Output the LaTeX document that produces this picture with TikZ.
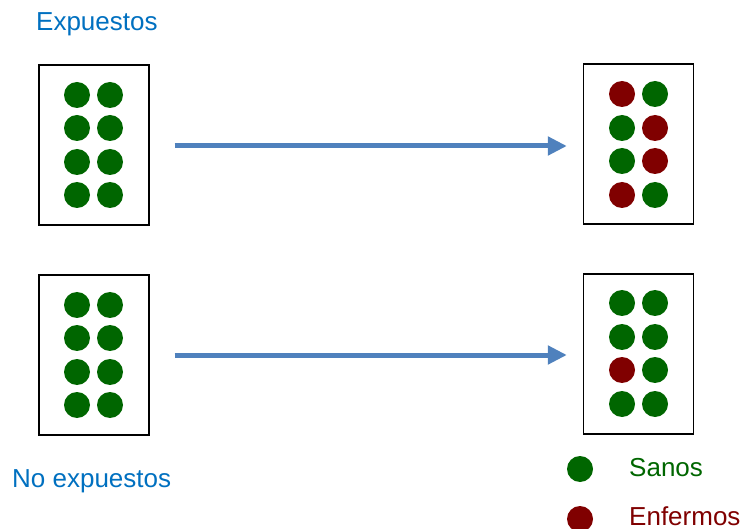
\documentclass[tikz,border=0pt]{standalone}
\usepackage{fontspec}
\setmainfont{Liberation Sans}
\usetikzlibrary{arrows.meta}
\definecolor{sano}{RGB}{0,102,0}
\definecolor{enfermo}{RGB}{128,0,0}
\definecolor{titulo}{RGB}{0,112,192}
\definecolor{flecha}{RGB}{79,129,189}
\tikzset{
  caja/.style={draw=black, line width=1.3pt, minimum width=110pt, minimum height=160pt, inner sep=0pt},
  dotS/.style={circle, fill=sano, minimum size=26pt, inner sep=0pt},
  dotE/.style={circle, fill=enfermo, minimum size=26pt, inner sep=0pt},
  rotulo/.style={font=\fontsize{26}{30}\selectfont, anchor=base west, inner sep=0pt},
  avance/.style={draw=flecha, line width=5pt, -{Triangle[length=19pt,width=18pt]}}
}
\begin{document}
\begin{tikzpicture}[x=1pt,y=-1pt]
\useasboundingbox (0,0) rectangle (747,529);
% groups
\node[rotulo, text=titulo] (tExp) at (36,31) {Expuestos};
\node[rotulo, text=titulo] (tNoExp) at (12,487) {No expuestos};
% boxes
\node[caja] (b1) at (94,145) {};
\node[caja] (b2) at (638.5,144) {};
\node[caja] (b3) at (94,355) {};
\node[caja] (b4) at (638.5,354) {};
% arrows
\draw[avance, shorten <=25pt, shorten >=16pt] (b1.east |- 0,146) -- (b2.west |- 0,146);
\draw[avance, shorten <=25pt, shorten >=16pt] (b3.east |- 0,355) -- (b4.west |- 0,355);
% box 1: all healthy
\foreach \r/\y in {1/95,2/128,3/162,4/195}{
  \node[dotS] (a\r l) at (77,\y) {};
  \node[dotS] (a\r r) at (110,\y) {};
}
% box 3: all healthy
\foreach \r/\y in {1/305,2/338,3/372,4/405}{
  \node[dotS] (c\r l) at (77,\y) {};
  \node[dotS] (c\r r) at (110,\y) {};
}
% box 2
\node[dotE] (b2a) at (622,94) {};
\node[dotS] (b2b) at (655,94) {};
\node[dotS] (b2c) at (622,128) {};
\node[dotE] (b2d) at (655,128) {};
\node[dotS] (b2e) at (622,161) {};
\node[dotE] (b2f) at (655,161) {};
\node[dotE] (b2g) at (622,195) {};
\node[dotS] (b2h) at (655,195) {};
% box 4
\node[dotS] (d1) at (622,303) {};
\node[dotS] (d2) at (655,303) {};
\node[dotS] (d3) at (622,337) {};
\node[dotS] (d4) at (655,337) {};
\node[dotE] (d5) at (622,370) {};
\node[dotS] (d6) at (655,370) {};
\node[dotS] (d7) at (622,404) {};
\node[dotS] (d8) at (655,404) {};
% legend
\node[dotS] (lS) at (580,469) {};
\node[rotulo, text=sano] (tS) at (629,476) {Sanos};
\node[dotE] (lE) at (580,519) {};
\node[rotulo, text=enfermo] (tE) at (629,525) {Enfermos};
\end{tikzpicture}
\end{document}
